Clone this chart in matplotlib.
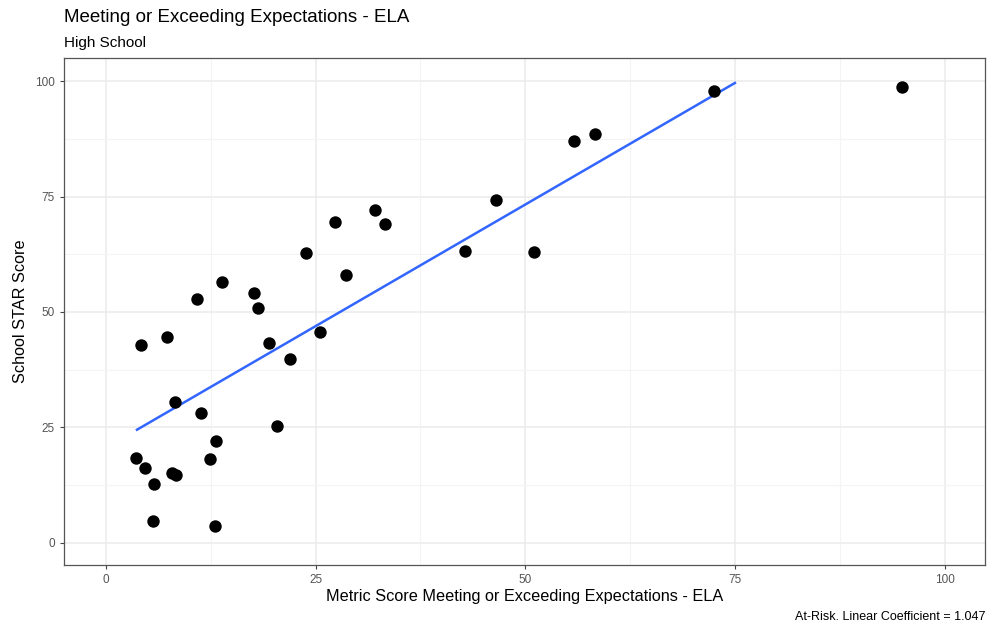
import matplotlib
matplotlib.use("Agg")
import matplotlib.pyplot as plt
from matplotlib.ticker import MultipleLocator

plt.rcParams['font.family'] = ['Liberation Sans', 'DejaVu Sans']

# values
metric_score = [3.6, 4.6, 4.2, 5.7, 5.6, 7.3, 7.9, 8.3, 8.2, 10.8, 11.3,
                12.4, 13.1, 13.0, 13.8, 17.6, 18.1, 19.5, 20.4, 21.9, 23.8,
                25.5, 27.3, 28.6, 32.1, 33.3, 42.8, 46.5, 51.0, 55.8, 58.3,
                72.5, 94.9]
star_score = [18.4, 16.3, 42.9, 12.8, 4.8, 44.5, 15.2, 14.8, 30.6, 52.9, 28.2,
              18.2, 22.1, 3.7, 56.4, 54.2, 50.8, 43.2, 25.4, 39.9, 62.7,
              45.6, 69.4, 58.1, 72.0, 69.0, 63.1, 74.2, 62.9, 87.0, 88.5,
              97.8, 98.7]
fit_x = [3.7, 75.0]
fit_y = [24.5, 99.6]

fig = plt.figure(figsize=(9.88, 6.28), dpi=100)
ax = fig.add_axes([0.0648, 0.1003, 0.932, 0.8073])

ax.set_xlim(-5.0, 104.8)
ax.set_ylim(-4.8, 105.0)
ax.xaxis.set_major_locator(MultipleLocator(25))
ax.yaxis.set_major_locator(MultipleLocator(25))
ax.xaxis.set_minor_locator(MultipleLocator(12.5))
ax.yaxis.set_minor_locator(MultipleLocator(12.5))
ax.grid(which="major", color="#ebebeb", linewidth=1.1)
ax.grid(which="minor", color="#f4f4f4", linewidth=0.8)
ax.tick_params(which="minor", length=0)
ax.tick_params(which="major", length=3, color="#444444", labelcolor="#555555",
               labelsize=8.5, width=0.8)
ax.set_axisbelow(True)
for s in ax.spines.values():
    s.set_color("#555555")
    s.set_linewidth(0.9)

ax.scatter(metric_score, star_score, s=80, color="black", zorder=3, linewidths=0)
ax.plot(fit_x, fit_y, color="#3366FF", linewidth=1.8, zorder=2)

ax.set_xlabel("Metric Score Meeting or Exceeding Expectations - ELA", fontsize=11.7,
              labelpad=2)
ax.set_ylabel("School STAR Score", fontsize=11.7, labelpad=5)

fig.text(0.0648, 0.965, "Meeting or Exceeding Expectations - ELA", fontsize=13.5,
         va="baseline")
fig.text(0.0648, 0.925, "High School", fontsize=11, va="baseline")
fig.text(0.997, 0.012, "At-Risk. Linear Coefficient = 1.047", fontsize=9,
         ha="right", va="baseline")

fig.savefig("out.png", dpi=100)
